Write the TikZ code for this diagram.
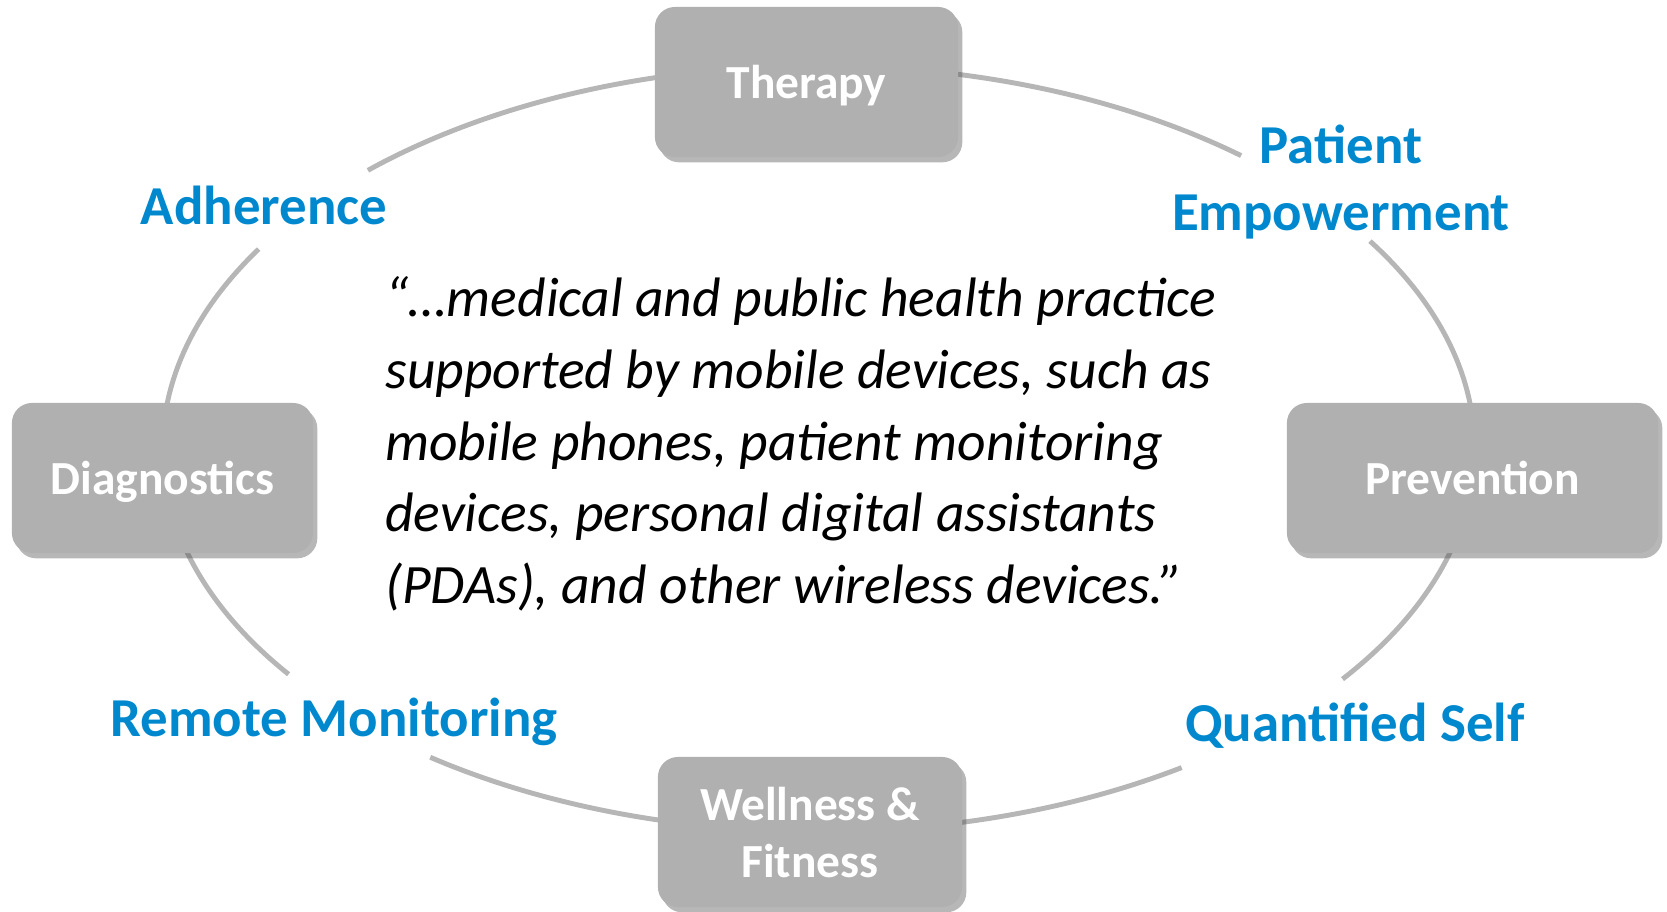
\documentclass[tikz,border=0pt]{standalone}
\usepackage{fontspec}
\setmainfont{Carlito}
\usetikzlibrary{shadows}
\definecolor{ringgray}{RGB}{182,182,182}
\definecolor{boxgray}{RGB}{176,176,176}
\definecolor{labelblue}{RGB}{0,136,206}
\tikzset{
  ring/.style={draw=ringgray,line width=1.4pt},
  areabox/.style={fill=boxgray,rounded corners=0.2cm,minimum height=1.5cm,text depth=0pt,
    text=white,font=\fontsize{13.5}{16.2}\selectfont\bfseries,align=center,
    drop shadow={shadow xshift=1.2pt,shadow yshift=-1.5pt,opacity=0.4,fill=black!70}},
  bluelabel/.style={text=labelblue,font=\fontsize{15.6}{19.3}\selectfont\bfseries,align=center}
}
\begin{document}
\begin{tikzpicture}[x=0.01cm,y=0.01cm]
        \useasboundingbox (0,0) rectangle (1667,911);
        \coordinate (c) at (818.6,462.4);
        \draw[ring] (c) ++(133.4:656 and 383) arc[start angle=133.4,end angle=49.9,x radius=656,y radius=383];
        \draw[ring] (c) ++(32.8:656 and 383) arc[start angle=32.8,end angle=-37,x radius=656,y radius=383];
        \draw[ring] (c) ++(-56.4:656 and 383) arc[start angle=-56.4,end angle=-126.3,x radius=656,y radius=383];
        \draw[ring] (c) ++(216.1:656 and 383) arc[start angle=216.1,end angle=148.6,x radius=656,y radius=383];
        \node[areabox,minimum width=3.03cm] (therapy) at (806.5,829) {Therapy};
        \node[areabox,minimum width=3.01cm] (diagnostics) at (162.5,433) {Diagnostics};
        \node[areabox,minimum width=3.71cm] (prevention) at (1472.5,433) {Prevention};
        \node[areabox,minimum width=3.04cm] (wellness) at (810,79) {Wellness \&\\Fitness};
        \node[bluelabel] (adherence) at (264,706) {Adherence};
        \node[bluelabel] (empowerment) at (1341,729) {Patient\\Empowerment};
        \node[bluelabel] (quantified) at (1355,185) {Quantified Self};
        \node[bluelabel] (remote) at (334,189) {Remote Monitoring};
        \node[anchor=west,align=left,font=\fontsize{15.8}{20.4}\selectfont\itshape] (quote) at (373,467)
          {“…medical and public health practice\\supported by mobile devices, such as\\mobile phones, patient monitoring\\devices, personal digital assistants\\(PDAs), and other wireless devices.”};
      \end{tikzpicture}
\end{document}
